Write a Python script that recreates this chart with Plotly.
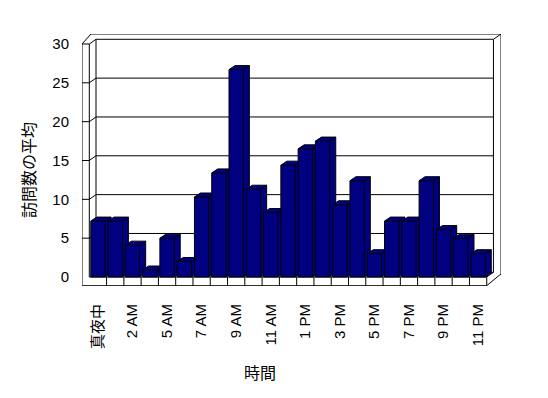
import plotly.graph_objects as go

# ---- data ----
categories = ["真夜中", "1 AM", "2 AM", "3 AM", "5 AM", "6 AM", "7 AM", "8 AM",
              "9 AM", "10 AM", "11 AM", "正午", "1 PM", "2 PM", "3 PM", "4 PM",
              "5 PM", "6 PM", "7 PM", "8 PM", "9 PM", "10 PM", "11 PM"]
values = [7.2, 7.2, 4.1, 0.9, 5.0, 2.0, 10.3, 13.4, 26.7, 11.3, 8.3, 14.4,
          16.5, 17.5, 9.3, 12.4, 3.0, 7.2, 7.2, 12.4, 6.1, 5.0, 3.0]
y_ticks = [0, 5, 10, 15, 20, 25, 30]
label_idx = list(range(0, len(categories), 2))
y_title = "訪問数の平均"
x_title = "時間"

# ---- geometry (page pixels; page body has an 8px offset) ----
OFF = 8
W, H = 548 - OFF, 398 - OFF
PL, PR, PT, PB = 82, 501, 34, 286      # plot area in page pixels
ML, MR, MT, MB = PL - OFF, W + OFF - PR, PT - OFF, H + OFF - PB
CAT_PX = 17.28          # pixels per category
UNIT_PX = 7.767         # pixels per value unit
n = len(categories)
x_lo = -0.5 - (89.3 - PL) / CAT_PX
x_hi = x_lo + (PR - PL) / CAT_PX
y_lo = -(PB - 277) / UNIT_PX
y_hi = y_lo + (PB - PT) / UNIT_PX

DXW = 6.7 / CAT_PX      # back wall depth offset (x)
DYW = 4.7 / UNIT_PX     # back wall depth offset (y)
DXB = 6.0 / CAT_PX      # bar depth offset (x)
DYB = 4.0 / UNIT_PX     # bar depth offset (y)
BW = 0.83               # bar front width (categories)

x0, x1 = -0.5, n - 0.5
ytop = y_ticks[-1]
floor_b = y_lo + 0.3 / UNIT_PX

fx, fy = [], []
def seg(*pts):
    for p in pts:
        fx.append(p[0]); fy.append(p[1])
    fx.append(None); fy.append(None)

seg((x_lo, ytop), (x_lo, floor_b), (x1, floor_b))
seg((x0, ytop), (x0, 0), (x1, 0))
seg((x_lo, ytop), (x0, ytop))
seg((x_lo, ytop), (x_lo + 9 / CAT_PX, y_hi), (x_hi, y_hi), (x_hi, 0.4))
seg((x0, ytop), (x0 + DXW, ytop + DYW), (x1 + DXW, ytop + DYW), (x_hi, y_hi))
seg((x0 + DXW, ytop + DYW), (x0 + DXW, DYW), (x1 + DXW, DYW))
seg((x1 + DXW, ytop + DYW), (x1 + DXW, DYW))
seg((x1, 0), (x1 + DXW, DYW))
seg((x1, floor_b), (x_hi, 0.4))
seg((x1, 0), (x1, floor_b))
for i in range(n - 1):
    seg((i + 0.5, 0), (i + 0.5, floor_b))
for v in y_ticks[1:-1]:
    seg((x_lo, v), (x0, v), (x0 + DXW, v + DYW), (x1 + DXW, v + DYW))

fig = go.Figure()
fig.add_trace(go.Scatter(x=fx, y=fy, mode="lines", line=dict(color="black", width=1),
                         hoverinfo="skip", showlegend=False))

NAVY = "#000080"
for i, v in enumerate(values):
    L, R = i - BW / 2, i + BW / 2
    sx = [L, L, L + DXB, R + DXB, R + DXB, R, L]
    sy = [0, v, v + DYB, v + DYB, DYB, 0, 0]
    fig.add_trace(go.Scatter(x=sx, y=sy, mode="lines", fill="toself", fillcolor=NAVY,
                             line=dict(color="black", width=1), hoverinfo="skip",
                             showlegend=False))
    ix = [L, R, R, None, R, R + DXB]
    iy = [v, v, 0, None, v, v + DYB]
    fig.add_trace(go.Scatter(x=ix, y=iy, mode="lines", line=dict(color="black", width=1),
                             hoverinfo="skip", showlegend=False))

FONT = "Liberation Sans, Arial, Noto Sans CJK JP"
PW, PH = PR - PL, PB - PT
fig.update_layout(
    width=W, height=H,
    margin=dict(l=ML, r=MR, t=MT, b=MB, pad=0, autoexpand=False),
    paper_bgcolor="white", plot_bgcolor="white",
    font=dict(family=FONT, size=14, color="black"),
    showlegend=False,
    xaxis=dict(range=[x_lo, x_hi], showgrid=False, zeroline=False, showline=False,
               automargin=False,
               tickmode="array", tickvals=label_idx,
               ticktext=[categories[i] for i in label_idx],
               tickangle=-90, ticks="", ticklabelstandoff=14,
               tickfont=dict(family=FONT, size=15, color="black")),
    yaxis=dict(range=[y_lo, y_hi], showgrid=False, zeroline=False, showline=False,
               automargin=False,
               tickmode="array", tickvals=y_ticks, ticks="", ticklabelstandoff=12,
               tickfont=dict(family=FONT, size=15, color="black")),
    annotations=[
        dict(text=y_title, xref="paper", yref="paper",
             x=(29 - PL) / PW, y=(PB - 170) / PH, xanchor="center", yanchor="middle",
             showarrow=False, textangle=-90, font=dict(family=FONT, size=16)),
        dict(text=x_title, xref="paper", yref="paper",
             x=(259.5 - PL) / PW, y=(PB - 373) / PH, xanchor="center", yanchor="middle",
             showarrow=False, font=dict(family=FONT, size=16)),
    ],
)
fig.write_html("out.html")
